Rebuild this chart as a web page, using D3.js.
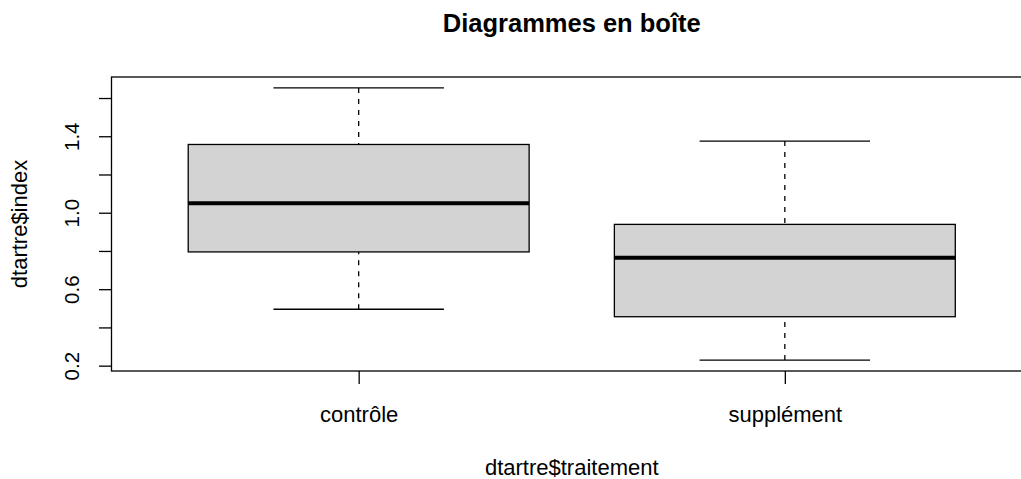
<!DOCTYPE html>
<html>
<head>
<meta charset="utf-8">
<script src="https://cdn.jsdelivr.net/npm/d3@7"></script>
<style>
  body { margin: 0; background: #fff; }
  svg { display: block; font-family: "Liberation Sans", Arial, sans-serif; }
</style>
</head>
<body>
<div id="chart"></div>
<script>
// box statistics
const categories = ['contrôle', 'supplément'];
const lowerWhisker = [0.495, 0.229];
const q1 = [0.795, 0.456];
const median = [1.05, 0.765];
const q3 = [1.357, 0.939];
const upperWhisker = [1.653, 1.375];
const yTicks = [0.2, 0.4, 0.6, 0.8, 1.0, 1.2, 1.4, 1.6];
const yLabels = [0.2, 0.6, 1.0, 1.4];

const width = 1021, height = 479;
const plot = { left: 111.5, right: 1032, top: 77, bottom: 371 };

const svg = d3.select('#chart').append('svg')
  .attr('width', width)
  .attr('height', height);

// R style: range extended by 4% on each side
const yMin = d3.min(lowerWhisker), yMax = d3.max(upperWhisker);
const pad = (yMax - yMin) * 0.04;
const y = d3.scaleLinear().domain([yMin - pad, yMax + pad]).range([plot.bottom, plot.top]);
const x = d3.scaleLinear().domain([0.42, categories.length + 0.58]).range([plot.left, plot.right]);

const boxHalf = 0.4, stapleHalf = 0.2;
const data = categories.map((c, i) => ({
  cat: c, pos: i + 1,
  lw: lowerWhisker[i], q1: q1[i], med: median[i], q3: q3[i], uw: upperWhisker[i]
}));

const g = svg.append('g');

// whiskers (dashed)
g.selectAll('.whisker-up').data(data).enter().append('line')
  .attr('x1', d => x(d.pos)).attr('x2', d => x(d.pos))
  .attr('y1', d => y(d.uw)).attr('y2', d => y(d.q3))
  .attr('stroke', '#000').attr('stroke-width', 1.3)
  .attr('stroke-dasharray', '5,6');
g.selectAll('.whisker-down').data(data).enter().append('line')
  .attr('x1', d => x(d.pos)).attr('x2', d => x(d.pos))
  .attr('y1', d => y(d.lw)).attr('y2', d => y(d.q1))
  .attr('stroke', '#000').attr('stroke-width', 1.3)
  .attr('stroke-dasharray', '5,6');

// staples
['uw', 'lw'].forEach(k => {
  g.selectAll('.staple-' + k).data(data).enter().append('line')
    .attr('x1', d => x(d.pos - stapleHalf)).attr('x2', d => x(d.pos + stapleHalf))
    .attr('y1', d => y(d[k])).attr('y2', d => y(d[k]))
    .attr('stroke', '#000').attr('stroke-width', 1.3);
});

// boxes
g.selectAll('.box').data(data).enter().append('rect')
  .attr('x', d => x(d.pos - boxHalf))
  .attr('width', d => x(d.pos + boxHalf) - x(d.pos - boxHalf))
  .attr('y', d => y(d.q3))
  .attr('height', d => y(d.q1) - y(d.q3))
  .attr('fill', '#d3d3d3').attr('stroke', '#000').attr('stroke-width', 1.3);

// medians
g.selectAll('.median').data(data).enter().append('line')
  .attr('x1', d => x(d.pos - boxHalf)).attr('x2', d => x(d.pos + boxHalf))
  .attr('y1', d => y(d.med)).attr('y2', d => y(d.med))
  .attr('stroke', '#000').attr('stroke-width', 4);

// plot frame
svg.append('rect')
  .attr('x', plot.left).attr('y', plot.top)
  .attr('width', plot.right - plot.left).attr('height', plot.bottom - plot.top)
  .attr('fill', 'none').attr('stroke', '#000').attr('stroke-width', 1.3);

// y axis
const yAxis = d3.axisLeft(y).tickValues(yTicks).tickSize(12.5)
  .tickFormat(d => yLabels.some(v => Math.abs(v - d) < 1e-9) ? d3.format('.1f')(d) : '');
const ya = svg.append('g')
  .attr('transform', `translate(${plot.left},0)`)
  .call(yAxis);
ya.select('.domain').remove();
ya.selectAll('.tick line').attr('stroke', '#000').attr('stroke-width', 1.3);
ya.selectAll('.tick text')
  .attr('font-size', 20.5).attr('fill', '#000')
  .attr('transform', 'rotate(-90)')
  .attr('x', 0).attr('y', -32.5).attr('dy', 0)
  .attr('text-anchor', 'middle');

// x axis
const xAxis = d3.axisBottom(x).tickValues(data.map(d => d.pos)).tickSize(13)
  .tickFormat(d => categories[d - 1]);
const xa = svg.append('g')
  .attr('transform', `translate(0,${plot.bottom})`)
  .call(xAxis);
xa.select('.domain').remove();
xa.selectAll('.tick line').attr('stroke', '#000').attr('stroke-width', 1.3);
xa.selectAll('.tick text')
  .attr('font-size', 22).attr('fill', '#000')
  .attr('y', 51).attr('dy', 0);

// labels
svg.append('text')
  .attr('x', (plot.left + plot.right) / 2).attr('y', 32)
  .attr('text-anchor', 'middle')
  .attr('font-size', 25.5).attr('font-weight', 'bold')
  .text('Diagrammes en boîte');

svg.append('text')
  .attr('x', (plot.left + plot.right) / 2).attr('y', 475)
  .attr('text-anchor', 'middle')
  .attr('font-size', 22)
  .text('dtartre$traitement');

svg.append('text')
  .attr('transform', `translate(27,${(plot.top + plot.bottom) / 2}) rotate(-90)`)
  .attr('text-anchor', 'middle')
  .attr('font-size', 22)
  .text('dtartre$index');
</script>
</body>
</html>
